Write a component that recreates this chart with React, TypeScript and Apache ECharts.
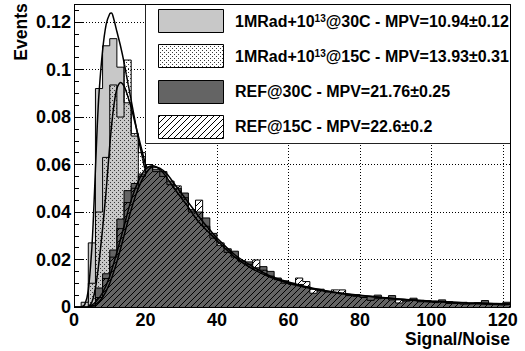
import React, { useEffect, useRef } from 'react';
import * as echarts from 'echarts';

// ---- data ----
const BIN_WIDTH = 2;
const X_MIN = 0;
const X_MAX = 122;
const Y_MAX = 0.1276;
const xTickStep = 20;
const yTickStep = 0.02;

const legendLabels = [
  '1MRad+10{sup|13}@30C - MPV=10.94±0.12',
  '1MRad+10{sup|13}@15C - MPV=13.93±0.31',
  'REF@30C - MPV=21.76±0.25',
  'REF@15C - MPV=22.6±0.2',
];

// histogram bin contents, bins of width 2 starting at 0
const histL30 = [
  0, 0.002, 0.027, 0.092, 0.110, 0.113, 0.101, 0.086, 0.072, 0.054,
  0.041, 0.031, 0.023, 0.017, 0.013, 0.010, 0.008, 0.006, 0.005, 0.004,
  0.0035, 0.003, 0.0025, 0.002, 0.002, 0.0015, 0.0012, 0.001, 0.001, 0.0008,
  0.0008, 0.0006, 0.0006, 0.0005, 0.0005, 0.0004, 0.0004, 0.0003, 0.0003, 0.0003,
  0.0002, 0.0002, 0.0002, 0.0002, 0.0001, 0.0001, 0.0001, 0.0001, 0.0001, 0.0001,
  0.0001, 0, 0, 0, 0, 0, 0, 0, 0, 0,
  0,
];
const histL15 = [
  0, 0, 0.010, 0.040, 0.063, 0.0935, 0.080, 0.104, 0.073, 0.065,
  0.060, 0.052, 0.045, 0.038, 0.031, 0.026, 0.021, 0.018, 0.015, 0.012,
  0.010, 0.0085, 0.007, 0.006, 0.005, 0.0042, 0.0035, 0.003, 0.0025, 0.0022,
  0.0019, 0.0016, 0.0014, 0.0012, 0.001, 0.0009, 0.0008, 0.0007, 0.0006, 0.0005,
  0.0005, 0.0004, 0.0004, 0.0003, 0.0003, 0.0003, 0.0002, 0.0002, 0.0002, 0.0002,
  0.0001, 0.0001, 0.0001, 0.0001, 0.0001, 0.0001, 0, 0, 0, 0,
  0,
];
const histRef30 = [
  0, 0, 0.0005, 0.008, 0.014, 0.024, 0.037, 0.049, 0.052, 0.056,
  0.059, 0.058, 0.057, 0.053, 0.050, 0.048, 0.041, 0.040, 0.0375, 0.031,
  0.026, 0.0245, 0.0235, 0.0195, 0.019, 0.0165, 0.017, 0.015, 0.0122, 0.011,
  0.010, 0.0095, 0.0085, 0.0058, 0.0075, 0.0065, 0.006, 0.0055, 0.005, 0.0052,
  0.004, 0.0045, 0.005, 0.004, 0.0048, 0.0017, 0.003, 0.0037, 0.0028, 0.0025,
  0.0022, 0.003, 0.0022, 0.0018, 0.002, 0.0015, 0.0018, 0.0027, 0.0012, 0.0015,
  0.002,
];
const histRef15 = [
  0, 0, 0, 0.004, 0.012, 0.021, 0.033, 0.044, 0.050, 0.055,
  0.060, 0.057, 0.055, 0.0515, 0.051, 0.046, 0.040, 0.045, 0.034, 0.029,
  0.027, 0.023, 0.021, 0.019, 0.018, 0.0198, 0.0155, 0.013, 0.0115, 0.010,
  0.0095, 0.0122, 0.0107, 0.0075, 0.0068, 0.0063, 0.0072, 0.0072, 0.0048, 0.0045,
  0.0042, 0.0028, 0.0035, 0.0038, 0.003, 0.003, 0.0025, 0.003, 0.0022, 0.002,
  0.0018, 0.0022, 0.0015, 0.0015, 0.0012, 0.0013, 0.0012, 0.001, 0.001, 0.0008,
  0.001,
];

// fitted curves
const fitL30X = [2, 3, 4, 5, 5.5, 6, 6.5, 7, 8, 9, 10, 10.5, 11, 12, 13, 14, 15, 16, 17, 18, 19, 20, 22, 24, 26, 28, 30, 35, 40, 50, 60];
const fitL30Y = [0, 0.001, 0.007, 0.025, 0.040, 0.058, 0.076, 0.090, 0.108, 0.119, 0.1235, 0.1238, 0.122, 0.116, 0.110, 0.103, 0.095, 0.087, 0.079, 0.071, 0.064, 0.057, 0.045, 0.035, 0.027, 0.021, 0.016, 0.008, 0.0045, 0.0015, 0.0005];
const fitL15X = [4, 5, 6, 7, 8, 9, 10, 11, 12, 13, 14, 15, 16, 17, 18, 19, 20, 22, 24, 26, 28, 30, 35, 40, 50, 60];
const fitL15Y = [0, 0.002, 0.008, 0.019, 0.033, 0.049, 0.068, 0.083, 0.092, 0.0945, 0.093, 0.089, 0.084, 0.078, 0.072, 0.066, 0.060, 0.050, 0.041, 0.034, 0.028, 0.023, 0.014, 0.009, 0.0035, 0.0015];
const fitRefX = [4, 6, 8, 10, 12, 14, 16, 18, 20, 22, 24, 26, 28, 30, 32, 34, 36, 38, 40, 45, 50, 55, 60, 65, 70, 75, 80, 90, 100, 110, 122];
const fitRef30Y = [0, 0.002, 0.006, 0.013, 0.023, 0.034, 0.045, 0.053, 0.058, 0.0595, 0.058, 0.0545, 0.050, 0.046, 0.042, 0.0375, 0.034, 0.031, 0.028, 0.021, 0.016, 0.0125, 0.010, 0.0082, 0.0068, 0.0057, 0.0048, 0.0034, 0.0024, 0.0017, 0.0012];
const fitRef15Y = [0, 0.001, 0.004, 0.010, 0.019, 0.030, 0.041, 0.050, 0.056, 0.059, 0.0585, 0.056, 0.052, 0.048, 0.044, 0.040, 0.036, 0.0325, 0.029, 0.022, 0.017, 0.013, 0.0105, 0.0085, 0.007, 0.0058, 0.0049, 0.0035, 0.0025, 0.0018, 0.0013];

// ---- helpers ----
function toSteps(vals: number[]) {
  const pts = vals.map((v, i) => [X_MIN + i * BIN_WIDTH, v]);
  pts.push([X_MIN + vals.length * BIN_WIDTH, vals[vals.length - 1]]);
  return pts;
}
function zip(xs: number[], ys: number[]) {
  return xs.map((x, i) => [x, ys[i]]);
}

function makeDots(): HTMLCanvasElement {
  const c = document.createElement('canvas');
  c.width = 4; c.height = 4;
  const ctx = c.getContext('2d')!;
  ctx.fillStyle = '#3a3a3a';
  ctx.fillRect(0, 0, 1, 1);
  ctx.fillRect(2, 2, 1, 1);
  return c;
}
function makeHatch(): HTMLCanvasElement {
  const n = 6;
  const c = document.createElement('canvas');
  c.width = n; c.height = n;
  const ctx = c.getContext('2d')!;
  ctx.fillStyle = '#000';
  for (let i = 0; i < n; i++) ctx.fillRect(i, n - 1 - i, 1, 1);
  return c;
}

const FONT = '"Liberation Sans", Arial, Helvetica, sans-serif';

export default function App() {
  const ref = useRef<HTMLDivElement>(null);
  useEffect(() => {
    if (!ref.current) return;
    const chart = echarts.init(ref.current, undefined, { renderer: 'svg' });
    const dots = makeDots();
    const hatch = makeHatch();
    const dotPattern = { image: dots, repeat: 'repeat', imageWidth: 4, imageHeight: 4 } as any;
    const hatchPattern = { image: hatch, repeat: 'repeat', imageWidth: 6, imageHeight: 6 } as any;
    const LIGHT = '#c8c8c8';
    const DARK = '#646464';

    const histSeries = (name: string, vals: number[], fill: any, z: number) => ({
      name,
      type: 'line',
      step: 'end',
      symbol: 'none',
      data: toSteps(vals),
      lineStyle: { color: '#000', width: 1 },
      areaStyle: { color: fill, opacity: 1 },
      z,
    });
    const fitSeries = (name: string, pts: number[][], z: number) => ({
      name,
      type: 'line',
      smooth: 0.3,
      symbol: 'none',
      data: pts,
      lineStyle: { color: '#000', width: 1.5 },
      z: z + 0.5,
    });

    const swatchFills = [LIGHT, dotPattern, DARK, hatchPattern];
    const legendTop = 9;
    const legendStep = 35.3;
    const legendGraphics: any[] = [
      {
        type: 'rect',
        shape: { x: 145.5, y: 4.5, width: 365, height: 139 },
        style: { fill: '#fff', stroke: '#222', lineWidth: 1 },
        z: 50,
      },
    ];
    legendLabels.forEach((label, i) => {
      const top = legendTop + legendStep * i;
      if (swatchFills[i] !== DARK && swatchFills[i] !== LIGHT) {
        legendGraphics.push({
          type: 'rect',
          shape: { x: 158.5, y: Math.round(top) + 0.5, width: 65, height: 23 },
          style: { fill: '#fff' },
          z: 51,
        });
      }
      legendGraphics.push({
        type: 'rect',
        shape: { x: 158.5, y: Math.round(top) + 0.5, width: 65, height: 23 },
        style: { fill: swatchFills[i], stroke: '#000', lineWidth: 1 },
        z: 52,
      });
      legendGraphics.push({
        type: 'text',
        x: 235,
        y: top + 12,
        style: {
          text: label,
          fontSize: 16,
          fontWeight: 'bold',
          fontFamily: FONT,
          fill: '#000',
          verticalAlign: 'middle',
          align: 'left',
          rich: {
            sup: { fontSize: 10, fontWeight: 'bold', fontFamily: FONT, verticalAlign: 'top', fill: '#000' },
          },
        },
        z: 53,
      });
    });

    const option: any = {
      animation: false,
      grid: { left: 74, top: 4, right: 15, bottom: 44, show: false },
      xAxis: {
        type: 'value',
        min: X_MIN,
        max: X_MAX,
        interval: xTickStep,
        axisLine: { show: false },
        axisTick: { show: false },
        splitLine: { show: true, lineStyle: { color: '#000', type: [1, 2], width: 1 } },
        axisLabel: {
          fontSize: 18, fontWeight: 'bold', fontFamily: FONT, color: '#000', margin: 6.5,
          lineHeight: 12,
          showMaxLabel: false,
          formatter: (v: number) => (v > 121 ? '' : String(v)),
        },
      },
      yAxis: {
        type: 'value',
        min: 0,
        max: Y_MAX,
        interval: yTickStep,
        axisLine: { show: false },
        axisTick: { show: true, inside: true, length: 9, lineStyle: { color: '#000', width: 1 } },
        minorTick: { show: true, splitNumber: 4, length: 5, lineStyle: { color: '#000', width: 1 } },
        splitLine: { show: true, lineStyle: { color: '#000', type: [1, 2], width: 1 } },
        axisLabel: {
          fontSize: 18, fontWeight: 'bold', fontFamily: FONT, color: '#000', margin: 3,
          lineHeight: 12,
          showMaxLabel: false,
          formatter: (v: number) => (v > 0.125 ? '' : String(parseFloat(v.toFixed(2)))),
        },
      },
      series: [
        histSeries('1MRad@30C', histL30, LIGHT, 2),
        fitSeries('fit 1MRad@30C', zip(fitL30X, fitL30Y), 2),
        histSeries('1MRad@15C', histL15, dotPattern, 3),
        fitSeries('fit 1MRad@15C', zip(fitL15X, fitL15Y), 3),
        histSeries('REF@30C', histRef30, DARK, 4),
        fitSeries('fit REF@30C', zip(fitRefX, fitRef30Y), 4),
        histSeries('REF@15C', histRef15, hatchPattern, 5),
        fitSeries('fit REF@15C', zip(fitRefX, fitRef15Y), 5),
      ],
      graphic: [
        {
          type: 'rect',
          shape: { x: 74.5, y: 4.5, width: 436, height: 303 },
          style: { fill: 'none', stroke: '#000', lineWidth: 1 },
          z: 100,
        },
        ...legendGraphics,
        {
          type: 'text',
          x: 21,
          y: 32,
          rotation: Math.PI / 2,
          style: {
            text: 'Events', fontSize: 17.5, fontWeight: 'bold', fontFamily: FONT, fill: '#000',
            align: 'center', verticalAlign: 'middle',
          },
          z: 60,
        },
        {
          type: 'text',
          x: 510,
          y: 339,
          style: {
            text: 'Signal/Noise', fontSize: 17.5, fontWeight: 'bold', fontFamily: FONT, fill: '#000',
            align: 'right', verticalAlign: 'middle',
          },
          z: 60,
        },
      ],
    };
    chart.setOption(option);
    return () => chart.dispose();
  }, []);
  return (
    <div
      ref={ref}
      style={{ position: 'fixed', left: 0, top: 0, width: 525, height: 351, background: '#fff' }}
    />
  );
}
